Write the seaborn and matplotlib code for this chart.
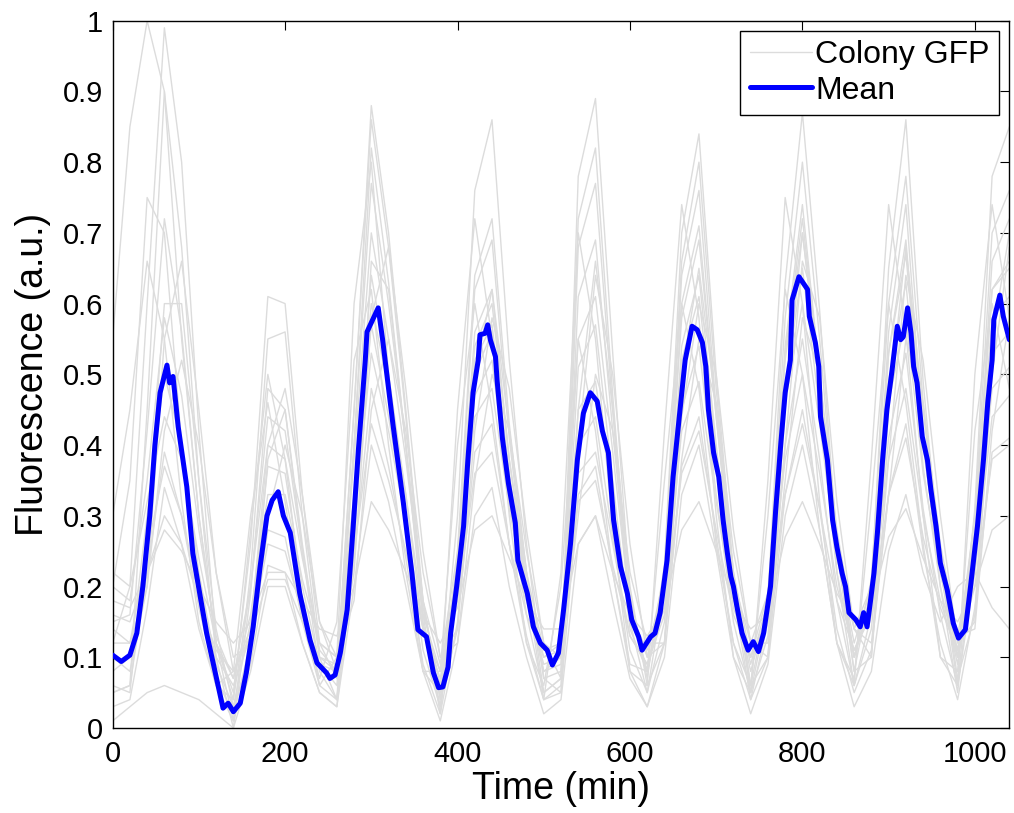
import matplotlib
matplotlib.use("Agg")
import matplotlib.pyplot as plt
from matplotlib.lines import Line2D
from matplotlib.ticker import FuncFormatter
import seaborn as sns
import pandas as pd

# ---------------- data ----------------
colony_time = [0, 20, 40, 60, 80, 100, 120, 140, 160, 180, 200, 220, 240, 260,
               280, 300, 320, 340, 360, 380, 400, 420, 440, 460, 480, 500, 520,
               540, 560, 580, 600, 620, 640, 660, 680, 700, 720, 740, 760, 780,
               800, 820, 840, 860, 880, 900, 920, 940, 960, 980, 1000, 1020, 1040]

colony_01 = [0.55,0.85,1.0,0.9,0.55,0.3,0.12,0.05, 0.26,0.61,0.6,0.33,0.12,0.07, 0.45,0.88,0.7,0.45,0.18,0.04, 0.3,0.76,0.86,0.52,0.26,0.07,0.08, 0.78,0.89,0.53,0.19,0.07, 0.23,0.7,0.84,0.5,0.22,0.06, 0.18,0.63,0.87,0.59,0.26,0.08, 0.2,0.65,0.86,0.49,0.23,0.06, 0.31,0.78,0.85]
colony_02 = [0.12,0.2,0.6,0.99,0.8,0.42,0.12,0.01, 0.22,0.55,0.56,0.3,0.1,0.08, 0.45,0.86,0.68,0.44,0.16,0.02, 0.25,0.64,0.72,0.43,0.22,0.05,0.07, 0.72,0.82,0.47,0.17,0.08, 0.22,0.66,0.8,0.48,0.21,0.05, 0.17,0.58,0.8,0.55,0.26,0.1, 0.21,0.6,0.78,0.46,0.24,0.1, 0.3,0.7,0.76]
colony_03 = [0.05,0.06,0.45,0.9,0.68,0.35,0.1,0.0, 0.19,0.48,0.45,0.25,0.08,0.04, 0.4,0.82,0.63,0.4,0.15,0.03, 0.24,0.62,0.69,0.41,0.2,0.04,0.06, 0.68,0.77,0.45,0.15,0.05, 0.2,0.64,0.76,0.45,0.19,0.04, 0.15,0.54,0.74,0.5,0.22,0.06, 0.16,0.56,0.74,0.41,0.2,0.05, 0.27,0.66,0.72]
colony_04 = [0.15,0.16,0.42,0.72,0.56,0.3,0.12,0.04, 0.2,0.44,0.42,0.25,0.11,0.08, 0.4,0.77,0.6,0.4,0.17,0.06, 0.23,0.56,0.62,0.38,0.2,0.08,0.09, 0.61,0.69,0.42,0.17,0.08, 0.2,0.6,0.71,0.44,0.2,0.09, 0.18,0.53,0.72,0.5,0.25,0.1, 0.19,0.53,0.69,0.4,0.22,0.1, 0.28,0.62,0.66]
colony_05 = [0.2,0.18,0.35,0.58,0.47,0.28,0.13,0.07, 0.2,0.4,0.38,0.24,0.12,0.1, 0.38,0.7,0.55,0.38,0.18,0.09, 0.25,0.54,0.6,0.38,0.22,0.11,0.12, 0.55,0.61,0.39,0.17,0.1, 0.22,0.58,0.69,0.44,0.22,0.1, 0.19,0.52,0.7,0.49,0.25,0.12, 0.2,0.53,0.67,0.4,0.22,0.11, 0.3,0.62,0.65]
colony_06 = [0.08,0.1,0.3,0.5,0.4,0.22,0.09,0.03, 0.15,0.37,0.36,0.2,0.09,0.06, 0.33,0.64,0.5,0.33,0.14,0.05, 0.22,0.52,0.57,0.36,0.19,0.08,0.1, 0.51,0.57,0.35,0.14,0.08, 0.19,0.54,0.64,0.4,0.19,0.08, 0.17,0.48,0.65,0.45,0.22,0.1, 0.18,0.49,0.63,0.37,0.2,0.09, 0.27,0.58,0.61]
colony_07 = [0.22,0.2,0.32,0.44,0.38,0.24,0.12,0.07, 0.16,0.33,0.33,0.21,0.12,0.1, 0.33,0.6,0.48,0.33,0.16,0.08, 0.23,0.5,0.56,0.35,0.2,0.1,0.12, 0.45,0.49,0.32,0.16,0.11, 0.2,0.52,0.61,0.39,0.21,0.12, 0.19,0.46,0.6,0.43,0.24,0.14, 0.2,0.46,0.58,0.36,0.22,0.13, 0.27,0.53,0.56]
colony_08 = [0.05,0.06,0.22,0.39,0.3,0.17,0.07,0.02, 0.12,0.28,0.27,0.15,0.06,0.04, 0.29,0.57,0.44,0.29,0.11,0.03, 0.19,0.47,0.52,0.32,0.16,0.05,0.07, 0.4,0.44,0.27,0.11,0.05, 0.15,0.45,0.54,0.33,0.15,0.05, 0.13,0.4,0.55,0.38,0.18,0.06, 0.14,0.41,0.53,0.31,0.16,0.06, 0.22,0.48,0.51]
colony_09 = [0.12,0.12,0.25,0.37,0.3,0.19,0.1,0.06, 0.13,0.26,0.25,0.16,0.09,0.08, 0.29,0.53,0.42,0.29,0.14,0.07, 0.2,0.44,0.48,0.31,0.18,0.09,0.1, 0.36,0.39,0.26,0.13,0.09, 0.17,0.42,0.49,0.32,0.17,0.1, 0.16,0.38,0.5,0.36,0.2,0.11, 0.17,0.38,0.48,0.3,0.18,0.1, 0.22,0.44,0.47]
colony_10 = [0.03,0.04,0.17,0.34,0.26,0.14,0.06,0.01, 0.09,0.23,0.22,0.12,0.05,0.03, 0.24,0.48,0.37,0.24,0.09,0.02, 0.15,0.39,0.43,0.26,0.13,0.04,0.05, 0.33,0.37,0.22,0.08,0.03, 0.12,0.37,0.44,0.27,0.12,0.04, 0.1,0.33,0.45,0.31,0.14,0.05, 0.11,0.33,0.43,0.25,0.12,0.04, 0.17,0.39,0.41]
colony_11 = [0.16,0.15,0.22,0.3,0.26,0.18,0.11,0.08, 0.13,0.21,0.21,0.15,0.1,0.09, 0.25,0.43,0.35,0.25,0.14,0.08, 0.18,0.36,0.39,0.26,0.16,0.1,0.11, 0.32,0.35,0.23,0.13,0.09, 0.16,0.36,0.42,0.28,0.16,0.1, 0.15,0.33,0.43,0.31,0.18,0.11, 0.16,0.33,0.41,0.27,0.17,0.11, 0.2,0.38,0.4]
colony_12 = [0.01,0.03,0.05,0.06,0.05,0.04,0.02,0.0, 0.08,0.2,0.2,0.12,0.05,0.03, 0.2,0.4,0.32,0.2,0.08,0.01, 0.12,0.3,0.34,0.2,0.1,0.02,0.04, 0.26,0.3,0.18,0.07,0.03, 0.1,0.33,0.4,0.25,0.1,0.02, 0.09,0.3,0.4,0.28,0.12,0.03, 0.08,0.25,0.33,0.22,0.15,0.2, 0.22,0.17,0.14]
colony_13 = [0.1,0.08,0.2,0.55,0.66,0.45,0.22,0.08, 0.14,0.4,0.48,0.33,0.15,0.08, 0.22,0.58,0.68,0.48,0.25,0.1, 0.14,0.42,0.58,0.48,0.28,0.12,0.07, 0.4,0.64,0.5,0.26,0.1, 0.12,0.44,0.6,0.5,0.28,0.12, 0.1,0.4,0.66,0.58,0.32,0.14, 0.1,0.38,0.64,0.52,0.3,0.12, 0.15,0.5,0.68]
colony_14 = [0.3,0.45,0.66,0.55,0.32,0.15,0.06,0.08, 0.3,0.46,0.32,0.16,0.07,0.15, 0.52,0.62,0.4,0.22,0.08,0.08, 0.4,0.6,0.45,0.26,0.12,0.06,0.2, 0.55,0.42,0.22,0.09,0.08, 0.35,0.6,0.48,0.26,0.12,0.06, 0.3,0.62,0.5,0.28,0.12,0.07, 0.32,0.6,0.46,0.26,0.1,0.08, 0.42,0.6,0.48]
colony_15 = [0.14,0.12,0.2,0.42,0.52,0.4,0.22,0.1, 0.12,0.3,0.4,0.3,0.15,0.1, 0.18,0.45,0.55,0.42,0.22,0.1, 0.12,0.35,0.5,0.42,0.25,0.12,0.1, 0.3,0.5,0.42,0.22,0.12, 0.12,0.38,0.55,0.46,0.25,0.12, 0.12,0.35,0.58,0.5,0.28,0.14, 0.12,0.33,0.55,0.46,0.26,0.13, 0.14,0.42,0.58]
colony_16 = [0.2,0.35,0.75,0.7,0.4,0.18,0.06,0.04, 0.28,0.5,0.38,0.18,0.06,0.1, 0.6,0.8,0.5,0.28,0.08,0.05, 0.45,0.72,0.55,0.3,0.12,0.04,0.22, 0.7,0.55,0.28,0.08,0.06, 0.42,0.74,0.58,0.3,0.1,0.05, 0.35,0.75,0.6,0.32,0.12,0.06, 0.38,0.74,0.56,0.3,0.1,0.06, 0.5,0.74,0.58]
colony_17 = [0.18,0.17,0.22,0.28,0.25,0.2,0.15,0.12, 0.15,0.22,0.22,0.18,0.14,0.13, 0.2,0.32,0.28,0.22,0.16,0.12, 0.17,0.28,0.3,0.24,0.18,0.14,0.14, 0.26,0.3,0.22,0.16,0.13, 0.17,0.28,0.32,0.25,0.18,0.14, 0.16,0.27,0.32,0.26,0.19,0.15, 0.17,0.27,0.31,0.24,0.18,0.15, 0.2,0.28,0.3]
colony_18 = [0.06,0.05,0.28,0.6,0.6,0.35,0.14,0.03, 0.1,0.38,0.45,0.26,0.1,0.04, 0.25,0.66,0.62,0.4,0.18,0.04, 0.14,0.5,0.62,0.42,0.22,0.07,0.05, 0.45,0.66,0.45,0.2,0.06, 0.12,0.5,0.65,0.45,0.22,0.06, 0.1,0.45,0.7,0.5,0.25,0.08, 0.1,0.45,0.68,0.45,0.24,0.07, 0.16,0.55,0.7]

colonies = [colony_01, colony_02, colony_03, colony_04, colony_05, colony_06, colony_07,
            colony_08, colony_09, colony_10, colony_11, colony_12, colony_13, colony_14,
            colony_15, colony_16, colony_17, colony_18]

mean_time = [0, 10, 20, 28, 35, 43, 49, 55, 63, 66, 70, 76, 86, 93, 101, 109, 119, 128, 134,
             140, 148, 155, 163, 171, 179, 185, 192, 198, 206, 217, 229, 237, 248, 252, 258,
             264, 272, 279, 285, 293, 295, 308, 313, 316, 325, 337, 347, 354, 364, 372, 378,
             383, 389, 392, 399, 407, 412, 418, 424, 426, 432, 435, 438, 444, 446, 452, 459,
             467, 470, 481, 488, 496, 504, 510, 517, 523, 531, 539, 546, 554, 562, 568, 575,
             581, 589, 597, 602, 610, 614, 624, 629, 635, 643, 650, 658, 664, 672, 678, 684,
             688, 691, 697, 703, 708, 713, 717, 720, 724, 730, 737, 743, 749, 755, 763, 769,
             775, 780, 786, 788, 796, 801, 806, 808, 815, 819, 821, 829, 835, 840, 846, 850,
             854, 862, 867, 871, 875, 879, 883, 887, 893, 898, 904, 910, 914, 917, 922, 926,
             929, 933, 939, 945, 949, 955, 960, 968, 975, 981, 989, 995, 1003, 1010, 1015,
             1020, 1022, 1029, 1033, 1040]
mean_value = [0.103, 0.094, 0.103, 0.134, 0.20, 0.30, 0.40, 0.474, 0.513, 0.488, 0.497, 0.426,
              0.341, 0.247, 0.19, 0.134, 0.078, 0.028, 0.035, 0.023, 0.035, 0.078, 0.143, 0.228,
              0.30, 0.322, 0.334, 0.30, 0.276, 0.19, 0.124, 0.092, 0.078, 0.07, 0.075, 0.106,
              0.167, 0.285, 0.393, 0.52, 0.56, 0.594, 0.55, 0.52, 0.43, 0.32, 0.22, 0.139,
              0.129, 0.078, 0.057, 0.058, 0.086, 0.134, 0.20, 0.285, 0.379, 0.474, 0.52, 0.556,
              0.558, 0.57, 0.549, 0.525, 0.49, 0.41, 0.346, 0.29, 0.237, 0.19, 0.143, 0.12,
              0.11, 0.089, 0.106, 0.167, 0.26, 0.379, 0.445, 0.474, 0.462, 0.42, 0.389, 0.294,
              0.228, 0.19, 0.153, 0.129, 0.11, 0.129, 0.134, 0.163, 0.237, 0.355, 0.45, 0.52,
              0.568, 0.563, 0.545, 0.511, 0.45, 0.389, 0.355, 0.294, 0.247, 0.214, 0.2, 0.172,
              0.134, 0.11, 0.122, 0.108, 0.134, 0.2, 0.308, 0.403, 0.474, 0.52, 0.605, 0.638,
              0.629, 0.62, 0.582, 0.545, 0.511, 0.44, 0.379, 0.294, 0.256, 0.219, 0.2, 0.163,
              0.153, 0.143, 0.163, 0.143, 0.18, 0.219, 0.276, 0.379, 0.45, 0.506, 0.568, 0.549,
              0.553, 0.594, 0.558, 0.511, 0.488, 0.412, 0.379, 0.337, 0.285, 0.233, 0.195,
              0.148, 0.127, 0.139, 0.2, 0.285, 0.379, 0.46, 0.52, 0.577, 0.612, 0.582, 0.549]

x_ticks = [0, 200, 400, 600, 800, 1000]
y_ticks = [0, 0.1, 0.2, 0.3, 0.4, 0.5, 0.6, 0.7, 0.8, 0.9, 1.0]

# ---------------- frames ----------------
frames = []
for i, vals in enumerate(colonies):
    frames.append(pd.DataFrame({"time": colony_time, "value": vals, "colony": i}))
df_col = pd.concat(frames, ignore_index=True)
df_mean = pd.DataFrame({"time": mean_time, "value": mean_value})

# ---------------- style ----------------
sns.set_style("white")
plt.rcParams["font.family"] = ["Liberation Sans", "DejaVu Sans"]
plt.rcParams["text.color"] = "black"
plt.rcParams["axes.labelcolor"] = "black"
plt.rcParams["xtick.color"] = "black"
plt.rcParams["ytick.color"] = "black"

GRAY = "#dcdcdc"
BLUE = "#0000ff"

fig = plt.figure(figsize=(10.14, 8.13), dpi=100)
ax = fig.add_axes([0.1111, 0.1046, 0.9954 - 0.1111, 0.9745 - 0.1046])

sns.lineplot(data=df_col, x="time", y="value", units="colony", estimator=None,
             color=GRAY, linewidth=1.0, ax=ax, legend=False, zorder=1)
sns.lineplot(data=df_mean, x="time", y="value", color=BLUE, linewidth=3.6,
             ax=ax, legend=False, zorder=3)

ax.set_xlim(0, 1040)
ax.set_ylim(0, 1)
ax.set_xticks(x_ticks)
ax.set_yticks(y_ticks)
ax.yaxis.set_major_formatter(FuncFormatter(lambda v, p: ("%g" % round(v, 2))))
ax.tick_params(direction="in", length=6.5, width=0.8, top=True, right=True,
               labelsize=21, colors="black", labelcolor="black", pad=7)
ax.tick_params(axis="x", pad=9)
for s in ax.spines.values():
    s.set_visible(True)
    s.set_color("black")
    s.set_linewidth(1.0)

ax.set_xlabel("Time (min)", fontsize=27, labelpad=2, color="black")
ax.set_ylabel("Fluorescence (a.u.)", fontsize=27, labelpad=8, color="black")

handles = [Line2D([], [], color=GRAY, linewidth=1.0),
           Line2D([], [], color=BLUE, linewidth=3.6)]
leg = ax.legend(handles, ["Colony GFP", "Mean"], loc="upper right", fontsize=23,
                frameon=True, fancybox=False, shadow=False, framealpha=1,
                edgecolor="black", borderpad=0.3, labelspacing=0.17,
                handlelength=1.95, handletextpad=0.1, borderaxespad=0.31)
leg.get_frame().set_linewidth(1.0)
for t in leg.get_texts():
    t.set_color("black")
leg.set_zorder(5)

fig.savefig("out.png", dpi=100)
